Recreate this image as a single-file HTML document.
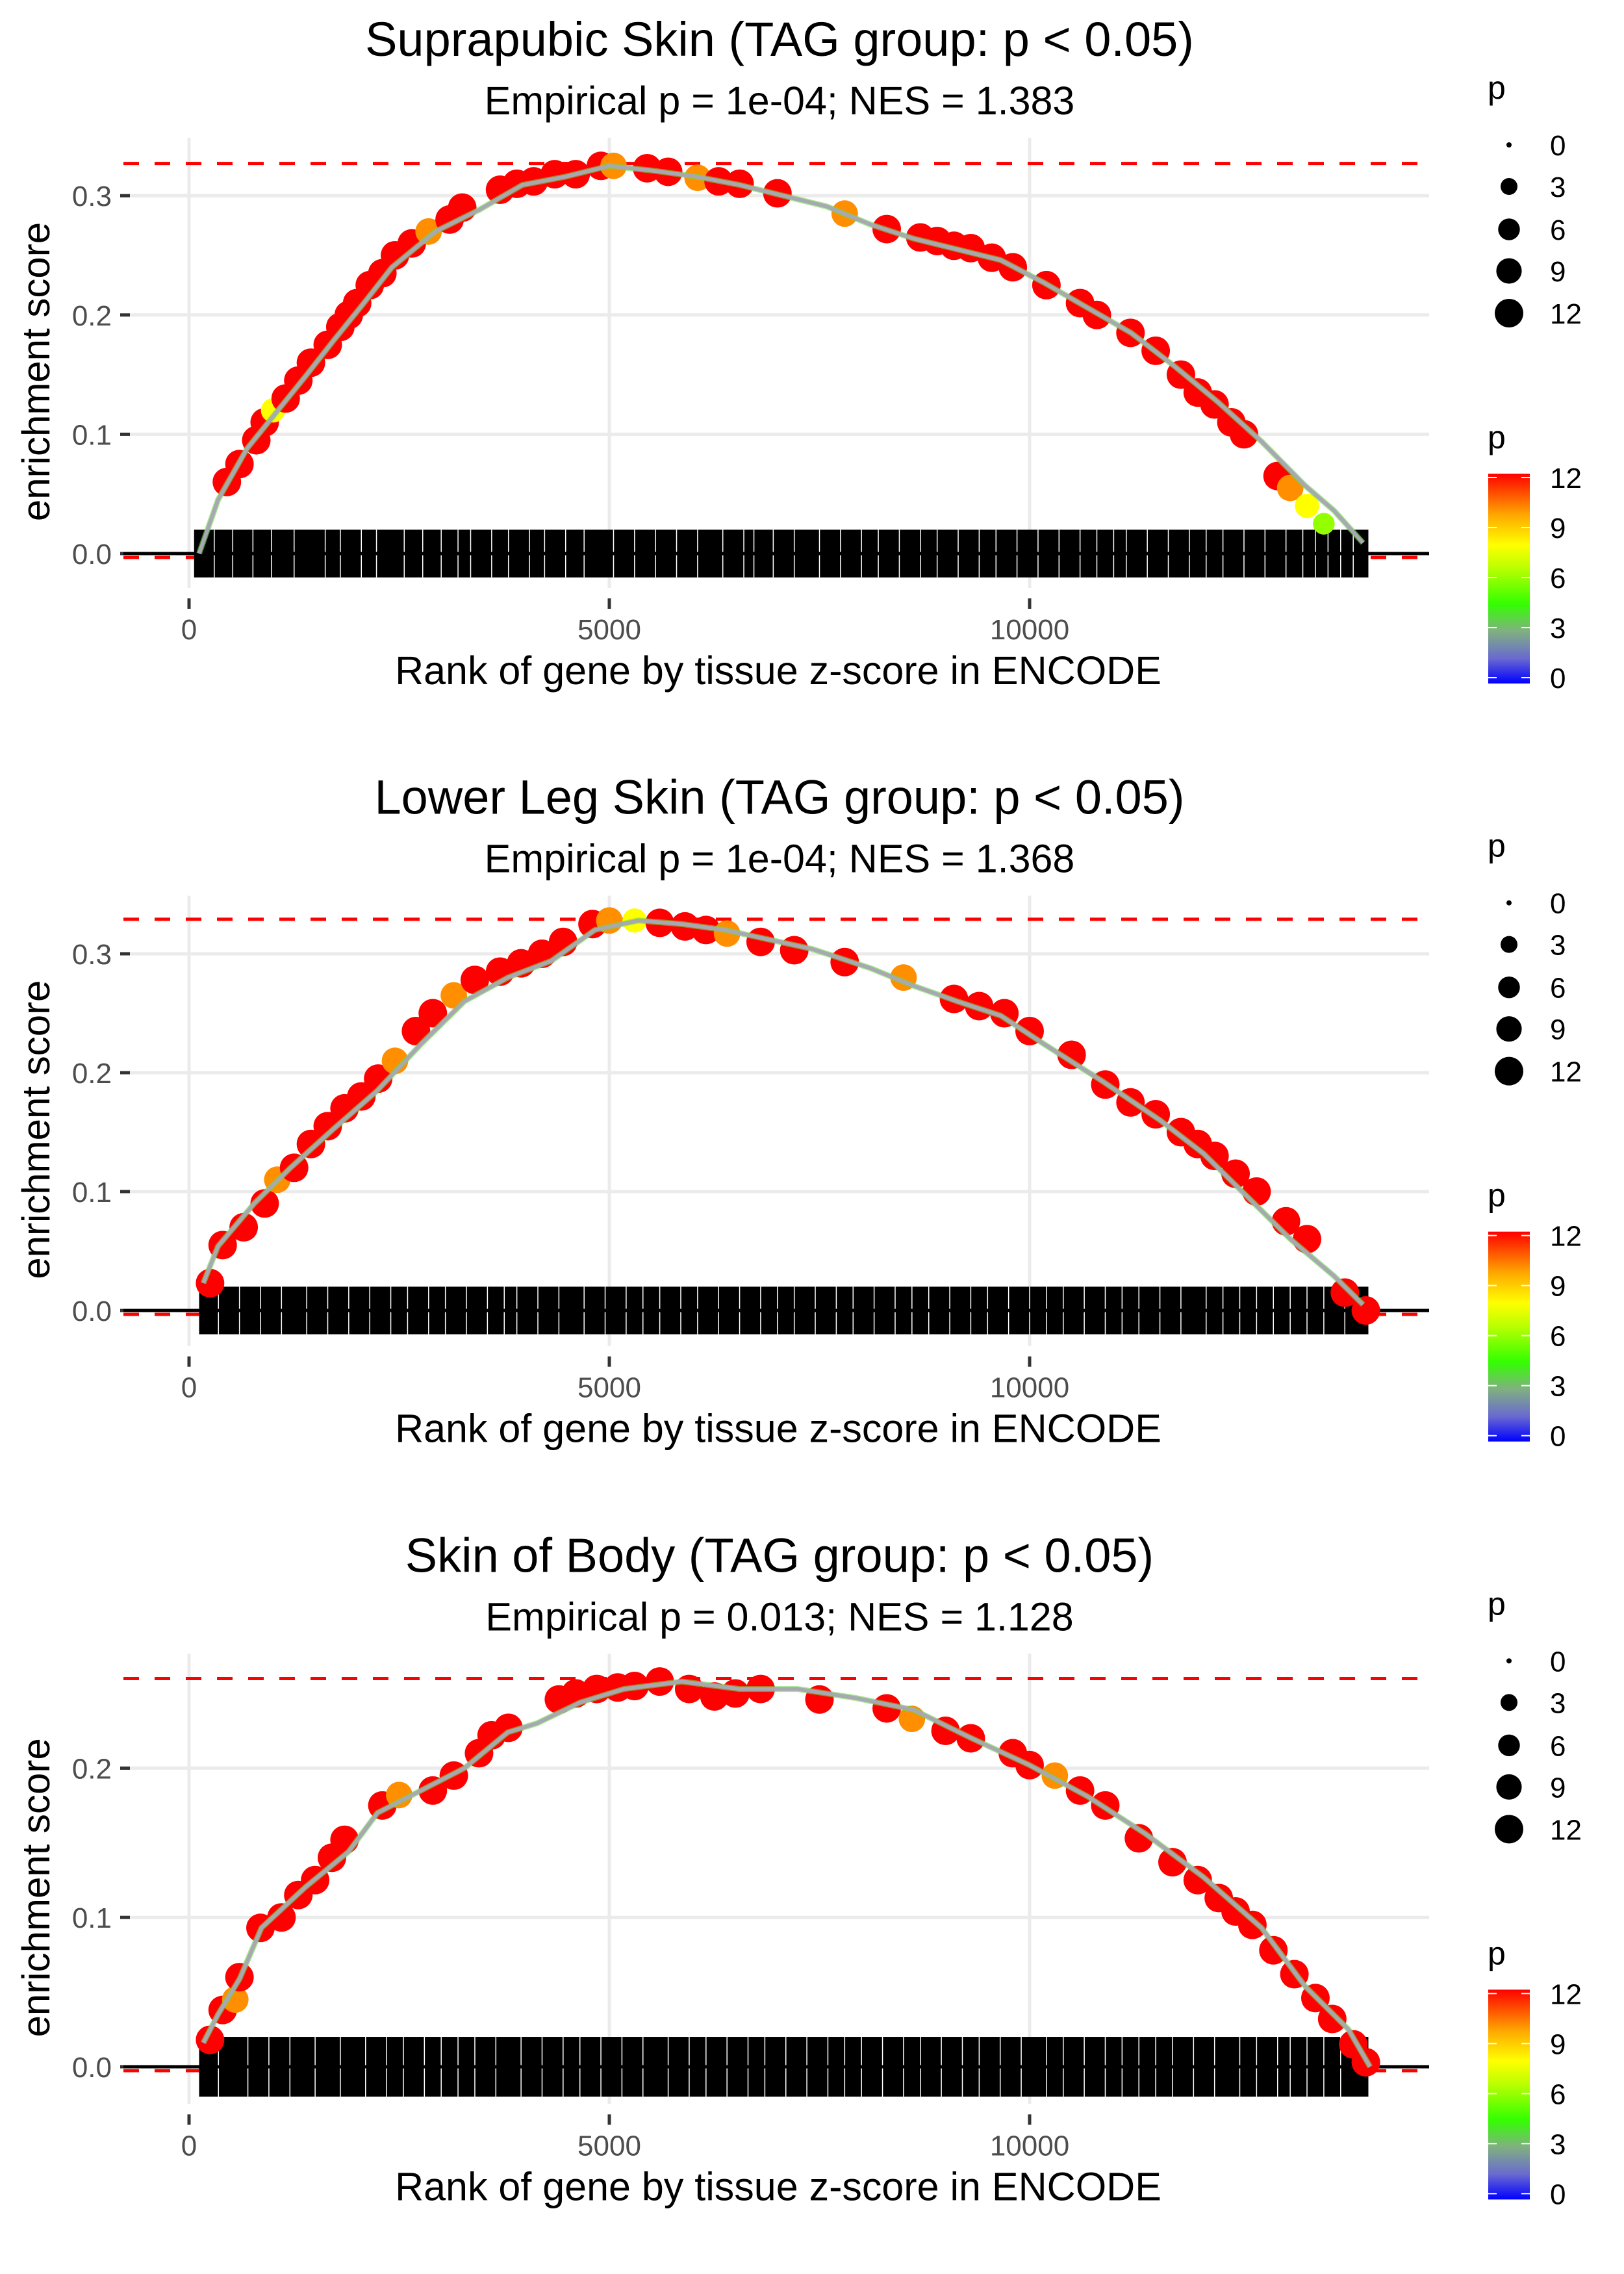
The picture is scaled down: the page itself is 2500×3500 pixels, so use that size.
<!DOCTYPE html>
<html><head><meta charset="utf-8">
<style>
html,body{margin:0;padding:0;background:#fff;}
svg{display:block;font-family:"Liberation Sans",sans-serif;}
</style></head>
<body>
<svg id="chart" xmlns="http://www.w3.org/2000/svg" width="2500" height="3500" viewBox="0 0 2500 3500">
<defs>
<linearGradient id="pgrad" x1="0" y1="1" x2="0" y2="0">
<stop offset="0" stop-color="#0000ff"/>
<stop offset="0.12" stop-color="#6a6ad0"/>
<stop offset="0.25" stop-color="#80b080"/>
<stop offset="0.38" stop-color="#33ff00"/>
<stop offset="0.55" stop-color="#bbff00"/>
<stop offset="0.66" stop-color="#ffff00"/>
<stop offset="0.8" stop-color="#ffaa00"/>
<stop offset="1" stop-color="#ff0000"/>
</linearGradient>
</defs>
</svg>
<script>
// ---- data ----
const titles = ["Suprapubic Skin (TAG group: p < 0.05)", "Lower Leg Skin (TAG group: p < 0.05)", "Skin of Body (TAG group: p < 0.05)"];
const subtitles = ["Empirical p = 1e-04; NES = 1.383", "Empirical p = 1e-04; NES = 1.368", "Empirical p = 0.013; NES = 1.128"];
const maxES = [0.327, 0.329, 0.260];
const xTicks = [0, 5000, 10000];
const yTicks = [0, 0.1, 0.2, 0.3];
const yTickLabels = ["0.0", "0.1", "0.2", "0.3"];
const sizeLegendValues = [0, 3, 6, 9, 12];
const colorLegendValues = [0, 3, 6, 9, 12];

const curve1Rank = [120,345,690,1034,1379,1724,2069,2414,2931,3448,3966,4483,5000,5517,6034,6552,7069,7586,8103,8621,9138,9655,10172,10690,11207,11724,12241,12759,13276,13621,13966];
const curve1ES = [0,0.045,0.088,0.118,0.148,0.179,0.209,0.24,0.27,0.288,0.309,0.316,0.325,0.321,0.316,0.309,0.300,0.291,0.276,0.264,0.255,0.246,0.227,0.206,0.185,0.157,0.127,0.094,0.057,0.036,0.009];
const curve2Rank = [170,345,776,1207,1724,2241,2759,3276,3793,4310,4828,5345,5862,6379,6897,7414,8103,8621,9138,9655,10172,10862,11552,12069,12586,13103,13621,13966];
const curve2ES = [0.023,0.054,0.09,0.12,0.153,0.185,0.224,0.26,0.28,0.294,0.32,0.328,0.325,0.32,0.312,0.304,0.288,0.273,0.26,0.248,0.224,0.193,0.16,0.132,0.096,0.06,0.029,0.005];
const curve3Rank = [170,345,603,862,1379,1897,2241,2759,3276,3793,4138,4655,5172,5862,6552,7241,7931,8621,9310,10000,10690,11379,12069,12759,13276,13793,14050];
const curve3ES = [0.016,0.035,0.059,0.093,0.12,0.144,0.17,0.185,0.2,0.224,0.23,0.244,0.253,0.258,0.253,0.253,0.247,0.239,0.22,0.202,0.181,0.156,0.127,0.093,0.054,0.025,0];

const hits1Rank = [450,600,800,900,1000,1150,1300,1450,1650,1800,1900,2000,2150,2300,2450,2650,2850,3100,3250,3700,3900,4100,4350,4600,4900,5050,5450,5700,6050,6300,6550,7000,7800,8300,8700,8900,9100,9300,9550,9800,10200,10600,10800,11200,11500,11800,12000,12200,12400,12550,12950,13100,13300,13500];
const hits1ES = [0.06,0.075,0.095,0.11,0.12,0.13,0.145,0.16,0.175,0.19,0.2,0.21,0.225,0.235,0.25,0.26,0.27,0.28,0.29,0.305,0.31,0.312,0.318,0.318,0.325,0.325,0.323,0.32,0.315,0.312,0.31,0.302,0.285,0.272,0.265,0.262,0.258,0.256,0.248,0.24,0.225,0.21,0.2,0.185,0.17,0.15,0.135,0.125,0.11,0.1,0.065,0.055,0.04,0.025];
const hits1P = [12,12,12,12,8,12,12,12,12,12,12,12,12,12,12,12,10,12,12,12,12,12,12,12,12,10,12,12,10,12,12,12,10,12,12,12,12,12,12,12,12,12,12,12,12,12,12,12,12,12,12,10,8,6];

const hits2Rank = [250,400,650,900,1050,1250,1450,1650,1850,2050,2250,2450,2700,2900,3150,3400,3700,3950,4200,4450,4800,5000,5300,5600,5900,6150,6400,6800,7200,7800,8500,9100,9400,9700,10000,10500,10900,11200,11500,11800,12000,12200,12450,12700,13050,13300,13750,14000];
const hits2ES = [0.023,0.055,0.07,0.09,0.11,0.12,0.14,0.155,0.17,0.18,0.195,0.21,0.235,0.25,0.265,0.278,0.285,0.292,0.3,0.31,0.325,0.328,0.328,0.326,0.323,0.32,0.317,0.31,0.303,0.293,0.28,0.262,0.256,0.25,0.235,0.215,0.19,0.175,0.165,0.15,0.14,0.13,0.115,0.1,0.075,0.06,0.015,0.0];
const hits2P = [12,12,12,12,10,12,12,12,12,12,12,10,12,12,10,12,12,12,12,12,12,10,8,12,12,12,10,12,12,12,10,12,12,12,12,12,12,12,12,12,12,12,12,12,12,12,12,12];

const hits3Rank = [250,400,550,600,850,1100,1300,1500,1700,1850,2300,2500,2900,3150,3450,3600,3800,4400,4600,4850,5100,5300,5600,5950,6250,6500,6800,7500,8300,8600,9000,9300,9800,10000,10300,10600,10900,11300,11700,12000,12250,12450,12650,12900,13150,13400,13600,13850,14000];
const hits3ES = [0.018,0.038,0.045,0.06,0.093,0.1,0.115,0.125,0.14,0.152,0.175,0.182,0.185,0.195,0.21,0.222,0.227,0.246,0.25,0.253,0.254,0.255,0.258,0.253,0.248,0.25,0.253,0.246,0.24,0.233,0.225,0.22,0.21,0.202,0.195,0.185,0.175,0.153,0.137,0.125,0.113,0.104,0.095,0.078,0.062,0.046,0.032,0.015,0.003];
const hits3P = [12,12,10,12,12,12,12,12,12,12,12,10,12,12,12,12,12,12,12,12,12,12,12,12,12,12,12,12,12,10,12,12,12,12,10,12,12,12,12,12,12,12,12,12,12,12,12,12,12];

const rugStart = [60, 120, 120];
const rugEnd = [14030, 14030, 14030];
const rugGaps1 = [300,520,760,980,1250,1620,1800,2050,2230,2560,2780,3000,3200,3350,3600,3800,4050,4230,4480,4700,5050,5300,5550,5800,6050,6350,6600,6720,6950,7200,7500,7750,8000,8200,8450,8700,8900,9150,9400,9600,9850,10100,10350,10600,10800,11000,11150,11400,11650,11900,12100,12300,12550,12800,13050,13250,13400,13550,13700,13850];
const rugGaps2 = [350,600,850,1100,1400,1650,1900,2150,2400,2600,2850,3050,3300,3550,3750,3900,4150,4400,4700,4950,5200,5400,5600,5850,6050,6300,6550,6800,7000,7200,7450,7700,7900,8150,8400,8600,8800,9050,9300,9500,9750,10000,10200,10400,10650,10900,11100,11300,11550,11800,12100,12300,12500,12700,12900,13100,13300,13500,13750];
const rugGaps3 = [350,700,950,1200,1500,1800,2100,2350,2550,2800,3000,3200,3400,3650,3950,4200,4450,4650,4900,5150,5400,5700,5950,6150,6400,6650,6850,7100,7350,7600,7800,8000,8250,8500,8700,8950,9200,9400,9650,9900,10200,10400,10650,10900,11100,11300,11500,11700,11950,12200,12500,12700,12950,13100,13300,13500,13700];

// ---- layout ----
const svg = document.getElementById('chart');
const NS = 'http://www.w3.org/2000/svg';
const PANEL_H = 1166.67;
const X0 = 291, XK = 647 / 5000;
const PL = 190, PR = 2200;
const panelCfg = [
  {zero: 852, k: 1836, curveR: curve1Rank, curveE: curve1ES, hr: hits1Rank, he: hits1ES, hp: hits1P, gaps: rugGaps1, yt: 4},
  {zero: 2017 - PANEL_H, k: 1830, curveR: curve2Rank, curveE: curve2ES, hr: hits2Rank, he: hits2ES, hp: hits2P, gaps: rugGaps2, yt: 4},
  {zero: 3181 - 2 * PANEL_H, k: 2298, curveR: curve3Rank, curveE: curve3ES, hr: hits3Rank, he: hits3ES, hp: hits3P, gaps: rugGaps3, yt: 3}
];
function el(tag, attrs, parent) {
  const e = document.createElementNS(NS, tag);
  for (const a in attrs) e.setAttribute(a, attrs[a]);
  (parent || svg).appendChild(e);
  return e;
}
function xs(r) { return X0 + r * XK; }
function pColor(p) {
  const stops = [[0,[0,0,255]],[1.5,[106,106,208]],[3,[128,176,128]],[4.5,[51,255,0]],[6.6,[187,255,0]],[8,[255,255,0]],[9.6,[255,170,0]],[12,[255,0,0]]];
  for (let i = 1; i < stops.length; i++) {
    if (p <= stops[i][0]) {
      const a = stops[i-1], b = stops[i], t = (p - a[0]) / (b[0] - a[0]);
      const c = a[1].map((v, j) => Math.round(v + (b[1][j] - v) * t));
      return 'rgb(' + c.join(',') + ')';
    }
  }
  return 'rgb(255,0,0)';
}
function pRadius(p) { return 4 + Math.sqrt(p / 12) * 18; }

panelCfg.forEach((cfg, i) => {
  const off = i * PANEL_H;
  const g = el('g', {transform: 'translate(0,' + off + ')'});
  
  
  const ys = es => cfg.zero - es * cfg.k;
  const top = 212, bottom = 905;

  const t = el('text', {x: 1200, y: 86, 'text-anchor': 'middle', 'font-size': 74, fill: '#000'}, g);
  t.textContent = titles[i];
  
  
  const st = el('text', {x: 1200, y: 176, 'text-anchor': 'middle', 'font-size': 61, fill: '#000'}, g);
  st.textContent = subtitles[i];
  
  

  for (let j = 0; j < cfg.yt; j++) {
    const yy = ys(yTicks[j]);
    const gl = el('line', {x1: PL, x2: PR, y1: yy, y2: yy, stroke: '#ebebeb', 'stroke-width': 5}, g);
    
    
    const tk = el('line', {x1: 185, x2: 200, y1: yy, y2: yy, stroke: '#333', 'stroke-width': 5}, g);
    
    
    const tl = el('text', {x: 172, y: yy + 16, 'text-anchor': 'end', 'font-size': 44, fill: '#4d4d4d'}, g);
    tl.textContent = yTickLabels[j];
    
    
  }
  xTicks.forEach(v => {
    const xx = xs(v);
    const gl = el('line', {x1: xx, x2: xx, y1: top, y2: bottom, stroke: '#ebebeb', 'stroke-width': 5}, g);
    
    
    const tk = el('line', {x1: xx, x2: xx, y1: 921, y2: 937, stroke: '#333', 'stroke-width': 5}, g);
    
    
    const tl = el('text', {x: xx, y: 984, 'text-anchor': 'middle', 'font-size': 44, fill: '#4d4d4d'}, g);
    tl.textContent = String(v);
    
    
  });

  const dm = el('line', {x1: PL, x2: PR, y1: ys(maxES[i]), y2: ys(maxES[i]), stroke: '#ff0000', 'stroke-width': 5, 'stroke-dasharray': '24,24'}, g);
  
  
  const dz = el('line', {x1: PL, x2: PR, y1: cfg.zero + 6, y2: cfg.zero + 6, stroke: '#ff0000', 'stroke-width': 5, 'stroke-dasharray': '24,24'}, g);
  
  

  const rh = 0.02 * cfg.k;
  const rug = el('rect', {x: xs(rugStart[i]), y: cfg.zero - rh, width: xs(rugEnd[i]) - xs(rugStart[i]), height: 2 * rh, fill: '#000'}, g);
  
  
  cfg.gaps.forEach(r => {
    const gp = el('line', {x1: xs(r), x2: xs(r), y1: cfg.zero - rh, y2: cfg.zero + rh, stroke: '#fff', 'stroke-width': 1.5}, g);
    
    
  });
  const zl = el('line', {x1: PL, x2: PR, y1: cfg.zero, y2: cfg.zero, stroke: '#000', 'stroke-width': 5}, g);
  
  

  cfg.hr.forEach((r, j) => {
    const c = el('circle', {cx: xs(r), cy: ys(cfg.he[j]), r: pRadius(cfg.hp[j]), fill: pColor(cfg.hp[j])}, g);
    
    
  });
  const pts = cfg.curveR.map((r, j) => xs(r).toFixed(1) + ',' + ys(cfg.curveE[j]).toFixed(1)).join(' ');
  const cg = el('polyline', {points: pts, fill: 'none', stroke: '#66dd44', 'stroke-width': 9, 'stroke-linejoin': 'round', opacity: 0.6}, g);
  
  
  const cl = el('polyline', {points: pts, fill: 'none', stroke: '#a8a8b0', 'stroke-width': 6, 'stroke-linejoin': 'round'}, g);
  
  

  const xt = el('text', {x: 1198, y: 1053, 'text-anchor': 'middle', 'font-size': 61, fill: '#000'}, g);
  xt.textContent = 'Rank of gene by tissue z-score in ENCODE';
  
  
  const yt = el('text', {x: 0, y: 0, 'text-anchor': 'middle', 'font-size': 60, fill: '#000', transform: 'translate(76,572) rotate(-90)'}, g);
  yt.textContent = 'enrichment score';
  
  

  const sl = el('text', {x: 2290, y: 152, 'font-size': 50, fill: '#000'}, g);
  sl.textContent = 'p';
  
  
  const sY = [223, 287, 353, 417, 482];
  sizeLegendValues.forEach((v, j) => {
    const c = el('circle', {cx: 2323, cy: sY[j], r: pRadius(v), fill: '#000'}, g);
    
    
    const lt = el('text', {x: 2386, y: sY[j] + 16, 'font-size': 44, fill: '#000'}, g);
    lt.textContent = String(v);
    
    
  });
  const cl2 = el('text', {x: 2290, y: 690, 'font-size': 50, fill: '#000'}, g);
  cl2.textContent = 'p';
  
  
  const cb = el('rect', {x: 2291, y: 729, width: 64, height: 323, fill: 'url(#pgrad)'}, g);
  
  
  colorLegendValues.forEach(v => {
    const yy = 1043 - v / 12 * 308;
    const a = el('line', {x1: 2291, x2: 2304, y1: yy, y2: yy, stroke: '#fff', 'stroke-width': 2}, g);
    
    
    const b = el('line', {x1: 2342, x2: 2355, y1: yy, y2: yy, stroke: '#fff', 'stroke-width': 2}, g);
    
    
    const lt = el('text', {x: 2386, y: yy + 16, 'font-size': 44, fill: '#000'}, g);
    lt.textContent = String(v);
    
    
  });
});
</script>
</body></html>
